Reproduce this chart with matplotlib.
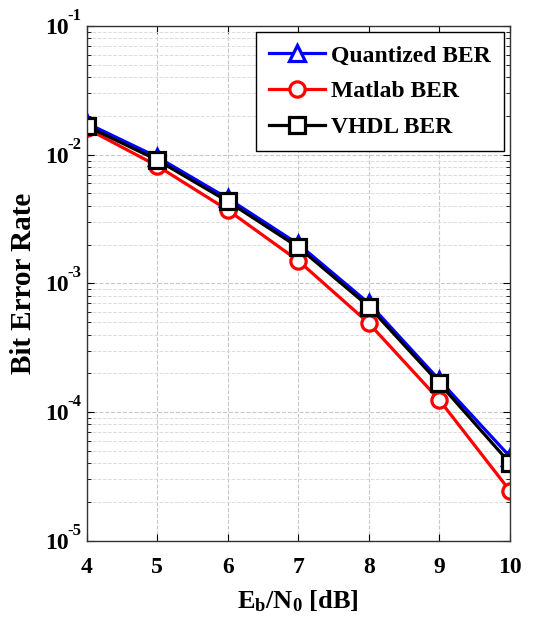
import numpy as np
import matplotlib
matplotlib.use("Agg")
import matplotlib.pyplot as plt
from matplotlib.ticker import FixedLocator, FixedFormatter, LogLocator, NullFormatter

plt.rcParams['font.family'] = ['Liberation Serif', 'DejaVu Serif']
plt.rcParams['font.weight'] = 'bold'
plt.rcParams['mathtext.fontset'] = 'custom'
plt.rcParams['mathtext.rm'] = 'Liberation Serif:bold'
plt.rcParams['mathtext.bf'] = 'Liberation Serif:bold'
plt.rcParams['mathtext.it'] = 'Liberation Serif:bold'
plt.rcParams['mathtext.default'] = 'bf'

# --- datos ---
ebn0 = [4, 5, 6, 7, 8, 9, 10]
ber_quant = [1.76e-2, 9.6e-3, 4.58e-3, 2.02e-3, 7.0e-4, 1.77e-4, 4.5e-5]
ber_matlab = [1.60e-2, 8.2e-3, 3.72e-3, 1.50e-3, 4.9e-4, 1.24e-4, 2.44e-5]
ber_vhdl = [1.67e-2, 9.1e-3, 4.34e-3, 1.91e-3, 6.6e-4, 1.67e-4, 4.0e-5]
y_decades = [1e-5, 1e-4, 1e-3, 1e-2, 1e-1]
y_exps = ['-5', '-4', '-3', '-2', '-1']

fig = plt.figure(figsize=(5.34, 6.19), dpi=100)
ax = fig.add_axes([0.162, 0.1265, 0.793, 0.8315])

common = dict(lw=2.3, markersize=11, markeredgewidth=2.3, markerfacecolor='white')
ax.plot(ebn0, ber_quant, '-^', color='blue', label='Quantized BER', **common)
ax.plot(ebn0, ber_matlab, '-o', color='red', label='Matlab BER', **common)
ax.plot(ebn0, ber_vhdl, '-s', color='black', label='VHDL BER', **common)

ax.set_yscale('log')
ax.set_xlim(4, 10)
ax.set_ylim(1e-5, 1e-1)
ax.xaxis.set_major_locator(FixedLocator(ebn0))
ax.yaxis.set_major_locator(FixedLocator(y_decades))
ax.yaxis.set_major_formatter(FixedFormatter(['10'] * len(y_decades)))
ax.yaxis.set_minor_locator(LogLocator(base=10, subs=np.arange(2, 10), numticks=20))
ax.yaxis.set_minor_formatter(NullFormatter())

ax.tick_params(which='both', direction='in', top=True, right=True)
ax.tick_params(which='major', length=5, labelsize=17)
ax.tick_params(axis='x', which='major', pad=12)
ax.tick_params(axis='y', which='major', pad=13)
ax.tick_params(which='minor', length=3)
for s in ax.spines.values():
    s.set_color('#333333')
    s.set_linewidth(1.0)

# exponentes estilo MATLAB (con guion) sobre cada "10"
for d, e in zip(y_decades, y_exps):
    ax.annotate(e, xy=(0, d), xycoords=('axes fraction', 'data'),
                xytext=(-19, 10), textcoords='offset pixels',
                ha='left', va='center', fontsize=12, fontweight='bold',
                annotation_clip=False)

ax.grid(True, which='major', ls='--', color='#c8c8c8', lw=0.8)
ax.grid(True, which='minor', axis='y', ls='--', color='#dcdcdc', lw=0.7)

ax.set_xlabel(r'E$_b$/N$_0$ [dB]', fontsize=19, fontweight='bold', labelpad=7)
ax.set_ylabel('Bit Error Rate', fontsize=21, fontweight='bold', labelpad=5.5)

leg = ax.legend(loc='upper right', fontsize=17, fancybox=False, framealpha=1,
                edgecolor='black', handlelength=2.4, handletextpad=0.25,
                borderaxespad=0.26, labelspacing=0.6, borderpad=0.55)
leg.get_frame().set_linewidth(1.0)
for t in leg.get_texts():
    t.set_fontweight('bold')

fig.savefig('out.png', dpi=100)
